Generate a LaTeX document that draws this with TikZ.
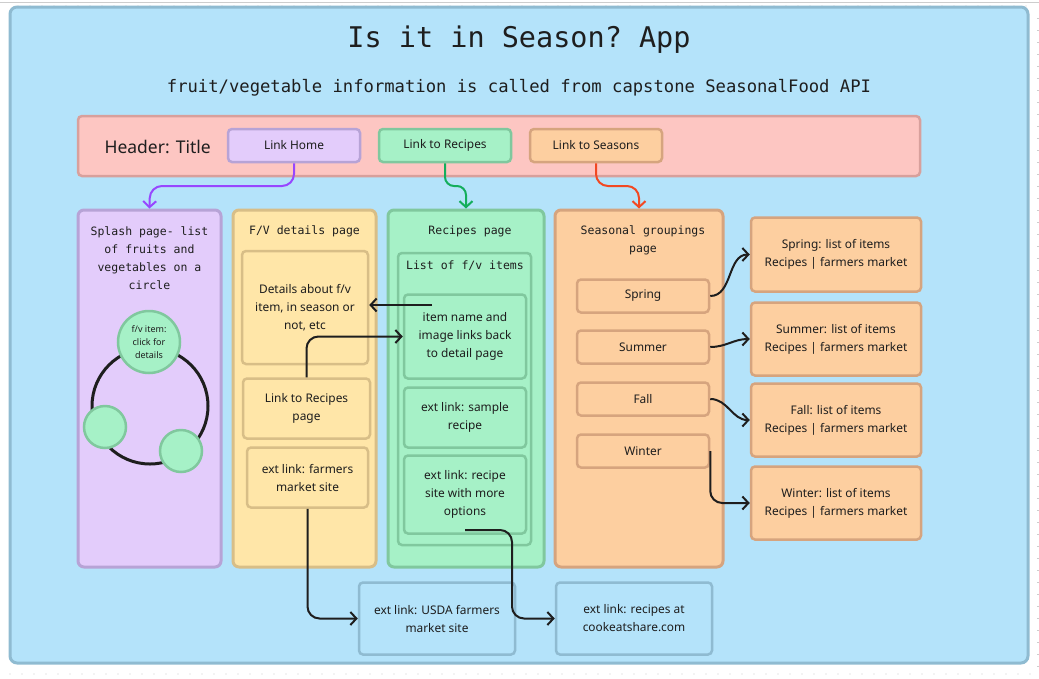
\documentclass[tikz,border=0pt]{standalone}
\usepackage{fontspec}
\setmainfont{Noto Sans}
\setmonofont{DejaVu Sans Mono}
\usetikzlibrary{arrows.meta}

\definecolor{ink}{RGB}{30,30,30}
\definecolor{skyfill}{RGB}{180,227,250}
\definecolor{skyline}{RGB}{143,187,209}
\definecolor{pinkfill}{RGB}{253,198,194}
\definecolor{pinkline}{RGB}{216,160,156}
\definecolor{lavfill}{RGB}{227,204,251}
\definecolor{lavline}{RGB}{183,163,214}
\definecolor{mintfill}{RGB}{166,241,199}
\definecolor{mintline}{RGB}{128,200,158}
\definecolor{sandfill}{RGB}{255,230,168}
\definecolor{sandline}{RGB}{216,190,135}
\definecolor{peachfill}{RGB}{253,207,160}
\definecolor{peachline}{RGB}{214,164,126}
\definecolor{homearrow}{RGB}{151,71,255}
\definecolor{recarrow}{RGB}{20,174,92}
\definecolor{seasarrow}{RGB}{242,72,34}
\definecolor{gridgrey}{RGB}{205,205,205}

\begin{document}
\begin{tikzpicture}[x=1pt,y=1pt]
    \tikzset{box/.style={draw,rounded corners=4pt,line width=2.5pt,align=center,
        inner sep=0pt,text=ink,font=\fontsize{11.9}{18}\selectfont},
      panel/.style={box,rounded corners=6pt,line width=3pt},
      monotext/.style={align=center,text=ink,font=\ttfamily\fontsize{11.5}{18}\selectfont},
      dot/.style={circle,draw=mintline,fill=mintfill,line width=2.5pt,inner sep=0pt,
        align=center,text=ink,font=\fontsize{9}{13}\selectfont},
      link/.style={draw=ink,line width=2pt,rounded corners=12pt,
        -{Straight Barb[length=6pt,width=13pt]}},
      toplink/.style={link,rounded corners=12pt}}
    \useasboundingbox (0,0) rectangle (1039,-678);
    % canvas grid
    \draw[gridgrey,line width=0.8pt] (0,-2) -- (1039,-2);
    \foreach \x in {18,30,...,1030} \fill[gridgrey] (\x,-6) circle (0.7);
    \foreach \x in {10,22,...,1030} \fill[gridgrey] (\x,-674) circle (0.7);
    \foreach \y in {18,30,...,670} \fill[gridgrey] (1037,-\y) rectangle (1039,-\y-0.8);
    % app background
    \draw[skyline,fill=skyfill,line width=3pt,rounded corners=7pt] (10,-7) rectangle (1028,-663);
    \node (title) at (519,-40) [text=ink,font=\ttfamily\fontsize{28.5}{30}\selectfont] {Is it in Season? App};
    \node (api) at (519,-88) [text=ink,font=\ttfamily\fontsize{17.2}{20}\selectfont]
      {fruit/vegetable information is called from capstone SeasonalFood API};

    % header
    \node (header) at (499,-146) [box,draw=pinkline,fill=pinkfill,minimum width=842,minimum height=60] {};
    \node (headtitle) at (101,-147) [anchor=west,text=ink,font=\fontsize{17.5}{20}\selectfont] {Header: Title};
    \node (linkhome) at (294,-145.5) [box,draw=lavline,fill=lavfill,minimum width=132,minimum height=33] {Link Home};
    \node (linkrec) at (445,-145.5) [box,draw=mintline,fill=mintfill,minimum width=132,minimum height=33] {Link to Recipes};
    \node (linkseas) at (596,-145.5) [box,draw=peachline,fill=peachfill,minimum width=132,minimum height=33] {Link to Seasons};

    % pages
    \node (splash) at (149.5,-388.5) [panel,draw=lavline,fill=lavfill,minimum width=143,minimum height=357] {};
    \node (fvpage) at (304.5,-388.5) [panel,draw=sandline,fill=sandfill,minimum width=143,minimum height=357] {};
    \node (recpage) at (466,-388.5) [panel,draw=mintline,fill=mintfill,minimum width=156,minimum height=357] {};
    \node (seaspage) at (639,-388.5) [panel,draw=peachline,fill=peachfill,minimum width=168,minimum height=357] {};
    \node (splashtxt) at (149.5,-258) [monotext] {Splash page- list\\of fruits and\\vegetables on a\\circle};
    \node (fvtxt) at (304.5,-231) [monotext] {F/V details page};
    \node (rectxt) at (470,-231) [monotext] {Recipes page};
    \node (seastxt) at (643,-240) [monotext] {Seasonal groupings\\page};

    % splash circle
    \draw[ink,line width=3pt] (150,-406) circle (58);
    \node (item) at (149,-342) [dot,minimum size=62] {f/v item:\\click for\\details};
    \node (itemb) at (105,-427) [dot,minimum size=42] {};
    \node (itemc) at (181,-451) [dot,minimum size=42] {};

    % details page
    \node (details) at (305,-307.5) [box,draw=sandline,fill=sandfill,minimum width=126,minimum height=113]
      {Details about f/v\\item, in season or\\not, etc};
    \node (recbtn) at (306.5,-408.5) [box,draw=sandline,fill=sandfill,minimum width=127,minimum height=60]
      {Link to Recipes\\page};
    \node (farmers) at (307.5,-477.5) [box,draw=sandline,fill=sandfill,minimum width=121,minimum height=60]
      {ext link: farmers\\market site};

    % recipes page
    \node (fvlist) at (464.5,-399) [box,draw=mintline,fill=mintfill,minimum width=133,minimum height=292] {};
    \node (fvlisttxt) at (465,-266) [monotext] {List of f/v items};
    \node (itemname) at (465,-336.5) [box,draw=mintline,fill=mintfill,minimum width=122,minimum height=84]
      {item name and\\image links back\\to detail page};
    \node (sample) at (465,-417.5) [box,draw=mintline,fill=mintfill,minimum width=122,minimum height=60]
      {ext link: sample\\recipe};
    \node (recsite) at (465,-494.5) [box,draw=mintline,fill=mintfill,minimum width=122,minimum height=78]
      {ext link: recipe\\site with more\\options};

    % seasons
    \node (spring) at (643,-296) [box,draw=peachline,fill=peachfill,minimum width=132,minimum height=33] {Spring};
    \node (summer) at (643,-347) [box,draw=peachline,fill=peachfill,minimum width=132,minimum height=33] {Summer};
    \node (fall) at (643,-399) [box,draw=peachline,fill=peachfill,minimum width=132,minimum height=33] {Fall};
    \node (winter) at (643,-451) [box,draw=peachline,fill=peachfill,minimum width=132,minimum height=33] {Winter};
    \node (springlist) at (836,-254.5) [box,draw=peachline,fill=peachfill,minimum width=170,minimum height=74]
      {Spring: list of items\\Recipes | farmers market};
    \node (summerlist) at (836,-339) [box,draw=peachline,fill=peachfill,minimum width=170,minimum height=73]
      {Summer: list of items\\Recipes | farmers market};
    \node (falllist) at (836,-420) [box,draw=peachline,fill=peachfill,minimum width=170,minimum height=73]
      {Fall: list of items\\Recipes | farmers market};
    \node (winterlist) at (836,-503) [box,draw=peachline,fill=peachfill,minimum width=170,minimum height=73]
      {Winter: list of items\\Recipes | farmers market};

    % external sites
    \node (usda) at (437,-618.5) [box,draw=skyline,fill=skyfill,minimum width=156,minimum height=72]
      {ext link: USDA farmers\\market site};
    \node (cook) at (634,-618.5) [box,draw=skyline,fill=skyfill,minimum width=156,minimum height=72]
      {ext link: recipes at\\cookeatshare.com};

    % header links
    \coordinate (homebend) at (150,-186);
    \coordinate (recbend) at (466,-186);
    \coordinate (seasbend) at (639,-186);
    \draw [toplink,homearrow] (linkhome.south) |- (homebend) -- (splash.north);
    \draw [toplink,recarrow,rounded corners=9pt] (linkrec.south) |- (recbend) -- (recpage.north);
    \draw [toplink,seasarrow] (linkseas.south) |- (seasbend) -- (seaspage.north);

    % page links
    \coordinate (itemstart) at (432,-305);
    \coordinate (recstart) at (465,-530);
    \coordinate (recturn) at (512,-530);
    \draw [link] (itemstart) -- (itemstart -| details.east);
    \draw [link] (recbtn.north) |- (itemname.west);
    \draw [link] (farmers.south) |- (usda.west);
    \draw [link] (recstart) -- (recturn) |- (cook.west);
    \draw [link] (spring.east) to[out=0,in=180] (springlist.west);
    \draw [link] (summer.east) to[out=0,in=180] (summerlist.west);
    \draw [link] (fall.east) to[out=0,in=180] (falllist.west);
    \draw [link] (winter.east) |- (winterlist.west);
\end{tikzpicture}
\end{document}
